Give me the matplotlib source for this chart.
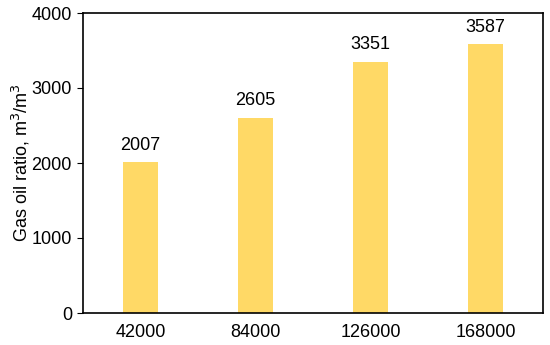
import matplotlib
matplotlib.use('Agg')
import matplotlib.pyplot as plt

categories = ['42000', '84000', '126000', '168000']
gor = [2007, 2605, 3351, 3587]

plt.rcParams['font.family'] = ['Liberation Sans', 'DejaVu Sans']

fig = plt.figure(figsize=(5.5, 3.45), dpi=100)
ax = fig.add_axes([83 / 550, 32 / 345, 460 / 550, 300 / 345])

x = range(len(categories))
bars = ax.bar(x, gor, width=0.3, color='#FFD966')
for b, v in zip(bars, gor):
    ax.text(b.get_x() + b.get_width() / 2, v + 110, str(v),
            ha='center', va='bottom', fontsize=13)

ax.set_xlim(-0.5, len(categories) - 0.5)
ax.set_ylim(0, 4000)
ax.set_yticks([0, 1000, 2000, 3000, 4000])
ax.set_xticks(list(x))
ax.set_xticklabels(categories)
ax.tick_params(axis='x', length=0, labelsize=13, pad=8)
ax.tick_params(axis='y', length=4, labelsize=13, direction='out', pad=4)
ax.set_ylabel('Gas oil ratio, m$^3$/m$^3$', fontsize=13, labelpad=0)
for s in ax.spines.values():
    s.set_linewidth(1.2)

fig.savefig('out.png', dpi=100)
